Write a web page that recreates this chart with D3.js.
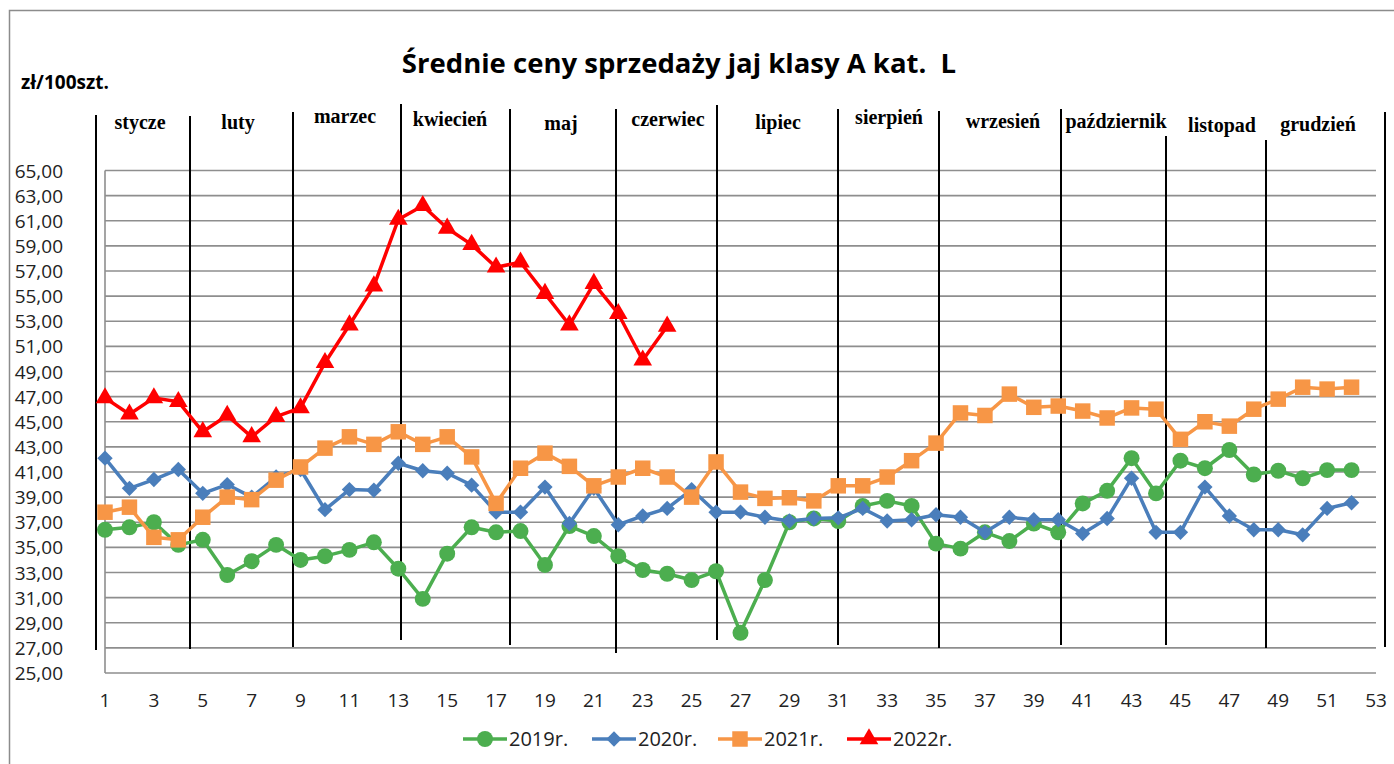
<!DOCTYPE html>
<html>
<head>
<meta charset="utf-8">
<script src="https://cdn.jsdelivr.net/npm/d3@7"></script>
<style>
  body { margin: 0; background: #fff; }
  svg { display: block; }
</style>
</head>
<body>
<div id="chart"></div>
<script>
// weeks 1..52
var weeks = d3.range(1, 53);

var s2019 = [36.4,36.6,37.0,35.2,35.6,32.8,33.9,35.2,34.0,34.3,34.8,35.4,33.3,30.9,34.5,36.6,
             36.2,36.3,33.6,36.7,35.9,34.3,33.2,32.9,32.4,33.1,28.2,32.4,37.0,37.3,37.1,38.3,
             38.7,38.3,35.3,34.9,36.2,35.5,36.9,36.2,38.5,39.5,42.1,39.3,41.9,41.3,42.75,40.8,
             41.1,40.5,41.15,41.15];
var s2020 = [42.1,39.7,40.4,41.2,39.3,40.0,39.0,40.6,41.2,38.0,39.6,39.55,41.7,41.1,40.9,39.95,
             37.8,37.8,39.8,36.9,39.7,36.8,37.5,38.1,39.6,37.8,37.8,37.4,37.1,37.3,37.35,38.1,
             37.1,37.2,37.6,37.4,36.2,37.4,37.2,37.2,36.1,37.3,40.5,36.2,36.2,39.8,37.5,36.4,
             36.4,36.0,38.1,38.55];
var s2021 = [37.8,38.2,35.8,35.6,37.4,39.0,38.8,40.35,41.4,42.9,43.8,43.2,44.2,43.2,43.8,42.2,
             38.5,41.3,42.5,41.45,39.9,40.6,41.3,40.6,39.0,41.8,39.4,38.9,38.95,38.7,39.9,39.9,
             40.6,41.9,43.3,45.7,45.5,47.2,46.15,46.25,45.85,45.3,46.1,46.0,43.6,45.0,44.65,46.0,
             46.8,47.75,47.6,47.75];
var s2022 = [46.9,45.6,46.9,46.6,44.2,45.5,43.8,45.4,46.1,49.7,52.7,55.8,61.1,62.2,60.4,59.1,
             57.3,57.7,55.2,52.7,56.0,53.6,49.9,52.6];

var seriesNames = ["2019r.", "2020r.", "2021r.", "2022r."];
var yTicks = d3.range(25, 66, 2);
var xTicks = d3.range(1, 54, 2);

var months = ["stycze","luty","marzec","kwiecień","maj","czerwiec","lipiec","sierpień","wrzesień","październik","listopad","grudzień"];
// month separator lines: [x, top, bottom]
var sepLines = [[96,115,650],[190,116,649],[293,112,647],[401,104,640],[510,109,645],[616,109,653],
                [717,105,640],[838,109,645],[939,111,648],[1061,109,645],[1166,136,645],[1266,140,648],[1385,112,647]];
var monthPos = [[140,129],[238,129],[345,123],[450,126],[561,130],[668,126],[778,129],[889,124],[1003,128],[1116,128],[1222,132],[1318,131]];

var W = 1394, H = 764;
var svg = d3.select("#chart").append("svg")
    .attr("width", W).attr("height", H);

// outer frame
svg.append("rect")
    .attr("x", 9.5).attr("y", 10.5)
    .attr("width", W + 20).attr("height", H + 20)
    .attr("fill", "none").attr("stroke", "#8c8c8c").attr("stroke-width", 1.5);

var x = d3.scaleLinear().domain([1, 53]).range([105, 1376]);
var y = d3.scaleLinear().domain([25, 65]).range([673, 170.5]);

// gridlines
svg.append("g")
  .selectAll("line")
  .data(yTicks)
  .enter().append("line")
    .attr("x1", x(1)).attr("x2", x(53))
    .attr("y1", function(d) { return y(d); })
    .attr("y2", function(d) { return y(d); })
    .attr("stroke", "#8e8e8e").attr("stroke-width", 1.6);

// left axis line
svg.append("line")
    .attr("x1", x(1)).attr("x2", x(1))
    .attr("y1", y(65)).attr("y2", y(25))
    .attr("stroke", "#8e8e8e").attr("stroke-width", 1.6);

// y labels
svg.append("g")
  .selectAll("text")
  .data(yTicks)
  .enter().append("text")
    .attr("x", 63)
    .attr("y", function(d) { return y(d) + 7; })
    .attr("text-anchor", "end")
    .style("font-family", "'Liberation Sans Narrow', 'Open Sans', sans-serif")
    .style("font-size", "19px")
    .style("fill", "#222")
    .text(function(d) { return d3.format(".2f")(d).replace(".", ","); });

// x labels
svg.append("g")
  .selectAll("text")
  .data(xTicks)
  .enter().append("text")
    .attr("x", function(d) { return x(d); })
    .attr("y", 707)
    .attr("text-anchor", "middle")
    .style("font-family", "'Liberation Sans Narrow', 'Open Sans', sans-serif")
    .style("font-size", "19px")
    .style("fill", "#222")
    .text(function(d) { return d; });

// month separators
svg.append("g")
  .selectAll("line")
  .data(sepLines)
  .enter().append("line")
    .attr("x1", function(d) { return d[0]; }).attr("x2", function(d) { return d[0]; })
    .attr("y1", function(d) { return d[1]; }).attr("y2", function(d) { return d[2]; })
    .attr("stroke", "#000").attr("stroke-width", 2);

// month names
svg.append("g")
  .selectAll("text")
  .data(months)
  .enter().append("text")
    .attr("x", function(d, i) { return monthPos[i][0]; })
    .attr("y", function(d, i) { return monthPos[i][1]; })
    .attr("text-anchor", "middle")
    .style("font-family", "'Liberation Serif', serif")
    .style("font-weight", "bold")
    .style("font-size", "20px")
    .text(function(d) { return d; });

// title
svg.append("text")
    .attr("x", 679).attr("y", 73)
    .attr("text-anchor", "middle")
    .attr("xml:space", "preserve")
    .style("font-family", "'Open Sans', sans-serif")
    .style("font-weight", "bold")
    .style("font-size", "27.5px")
    .text("Średnie ceny sprzedaży jaj klasy A kat.  L");

svg.append("text")
    .attr("x", 21).attr("y", 89)
    .style("font-family", "'Open Sans', sans-serif")
    .style("font-weight", "bold")
    .style("font-size", "19px")
    .text("zł/100szt.");

var series = [
  { name: seriesNames[0], values: s2019, color: "#4cae4f", marker: "circle" },
  { name: seriesNames[1], values: s2020, color: "#4a7ebb", marker: "diamond" },
  { name: seriesNames[2], values: s2021, color: "#f79646", marker: "square" },
  { name: seriesNames[3], values: s2022, color: "#ff0000", marker: "triangle" }
];

var symbols = {
  circle: d3.symbol().type(d3.symbolCircle).size(200),
  diamond: d3.symbol().type(d3.symbolDiamond2).size(150),
  square: d3.symbol().type(d3.symbolSquare).size(240),
  triangle: d3.symbol().type(d3.symbolTriangle).size(150)
};

var line = d3.line()
    .x(function(d, i) { return x(weeks[i]); })
    .y(function(d) { return y(d); });

series.forEach(function(s) {
  var g = svg.append("g");
  g.append("path")
    .attr("d", line(s.values))
    .attr("fill", "none")
    .attr("stroke", s.color)
    .attr("stroke-width", 3.5)
    .attr("stroke-linejoin", "round");
  g.selectAll("path.m")
    .data(s.values)
    .enter().append("path")
      .attr("class", "m")
      .attr("d", symbols[s.marker])
      .attr("transform", function(d, i) { return "translate(" + x(weeks[i]) + "," + y(d) + ")"; })
      .attr("fill", s.color);
});

// legend
var legX = [463, 592, 718, 847];
var leg = svg.append("g");
series.forEach(function(s, i) {
  var lx = legX[i], ly = 739;
  leg.append("line")
    .attr("x1", lx).attr("x2", lx + 44)
    .attr("y1", ly).attr("y2", ly)
    .attr("stroke", s.color).attr("stroke-width", 3.5);
  leg.append("path")
    .attr("d", symbols[s.marker])
    .attr("transform", "translate(" + (lx + 22) + "," + ly + ")")
    .attr("fill", s.color);
  leg.append("text")
    .attr("x", lx + 46).attr("y", ly + 7)
    .style("font-family", "'Liberation Sans Narrow', 'Open Sans', sans-serif")
    .style("font-size", "20px")
    .style("fill", "#222")
    .text(s.name);
});
</script>
</body>
</html>
